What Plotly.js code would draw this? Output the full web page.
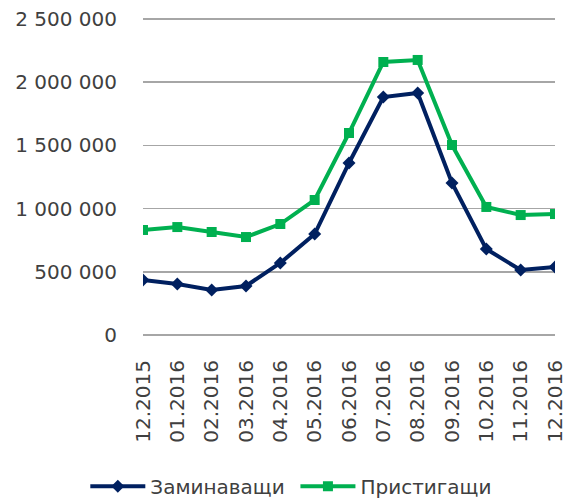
<!DOCTYPE html>
<html>
<head>
<meta charset="utf-8">
<script src="https://cdn.plot.ly/plotly-3.0.1.min.js"></script>
<style>html,body{margin:0;padding:0;background:#fff;}#chart{width:574px;height:501px;}</style>
</head>
<body>
<div id="chart"></div>
<script>
const months = ["12.2015","01.2016","02.2016","03.2016","04.2016","05.2016","06.2016","07.2016","08.2016","09.2016","10.2016","11.2016","12.2016"];
const departing = [435000, 403000, 356000, 388000, 570000, 799000, 1361000, 1883000, 1915000, 1203000, 680000, 514000, 538000];
const arriving = [831000, 854000, 815000, 775000, 878000, 1068000, 1598000, 2160000, 2176000, 1503000, 1013000, 949000, 957000];
const yTicks = [0, 500000, 1000000, 1500000, 2000000, 2500000];

const traces = [
  {x: months, y: departing, name: "Заминаващи", type: "scatter", mode: "lines+markers", legend: "legend",
   line: {color: "#002060", width: 4}, marker: {symbol: "diamond", size: 10, color: "#002060"}},
  {x: months, y: arriving, name: "Пристигащи", type: "scatter", mode: "lines+markers", legend: "legend2",
   line: {color: "#00b050", width: 4}, marker: {symbol: "square", size: 10, color: "#00b050"}}
];
const legendBase = {orientation: "h", xanchor: "left", y: -0.477, yanchor: "middle",
                    font: {size: 20, color: "#404040"}, itemwidth: 55, bgcolor: "rgba(0,0,0,0)"};
const layout = {
  width: 574, height: 501,
  margin: {l: 143, r: 19, t: 18, b: 166, autoexpand: false},
  paper_bgcolor: "#fff", plot_bgcolor: "#fff",
  separators: ", ",
  font: {family: "DejaVu Sans, sans-serif", size: 20, color: "#404040"},
  showlegend: true,
  legend: Object.assign({}, legendBase, {x: -0.14}),
  legend2: Object.assign({}, legendBase, {x: 0.37}),
  xaxis: {type: "category", range: [0, 12], showgrid: false, zeroline: false, showline: false, automargin: false,
          tickangle: -90, ticks: "", tickfont: {size: 20}, ticklabelstandoff: 20, fixedrange: true},
  yaxis: {range: [0, 2508000], tickvals: yTicks, tickformat: ",d", showgrid: true, gridcolor: "#a6a6a6", automargin: false,
          gridwidth: 1.5, zeroline: true, zerolinecolor: "#a6a6a6", zerolinewidth: 1.5, ticks: "",
          ticklabelstandoff: 25, tickfont: {size: 20}, fixedrange: true}
};
Plotly.newPlot("chart", traces, layout, {displayModeBar: false, staticPlot: true});
</script>
</body>
</html>
